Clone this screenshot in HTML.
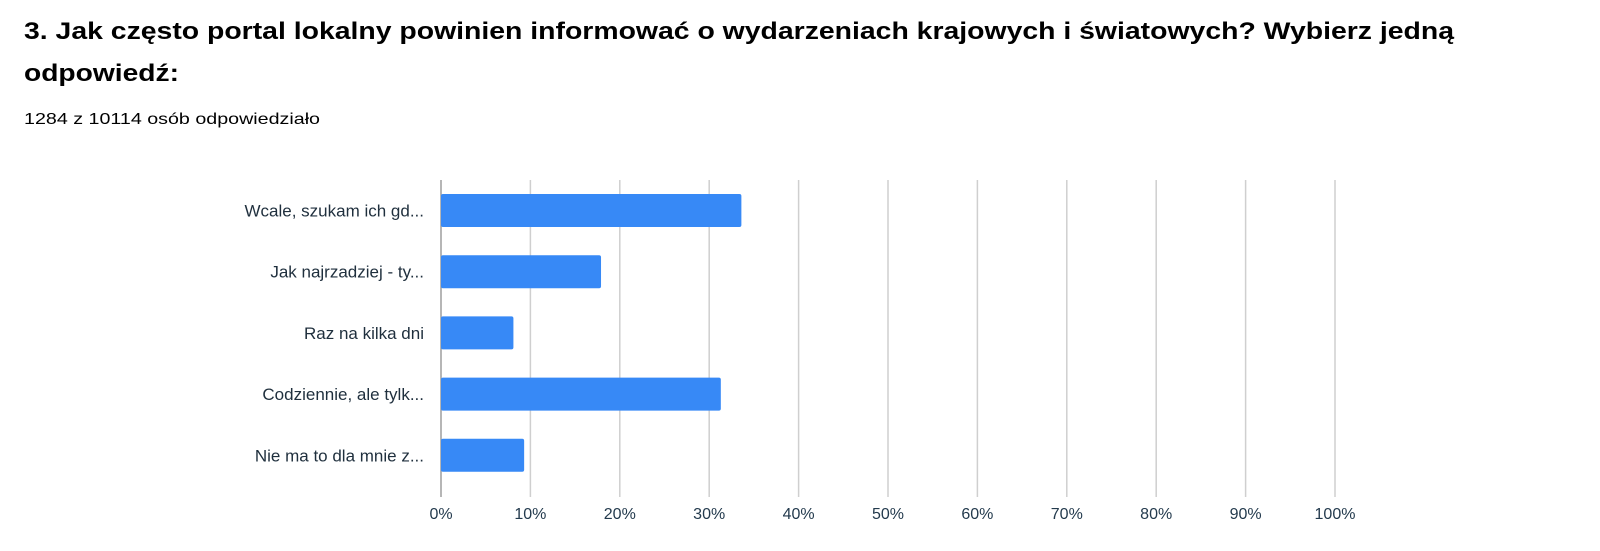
<!DOCTYPE html>
<html><head><meta charset="utf-8"><style>
body{margin:0;background:#fff;width:1600px;height:546px;overflow:hidden;font-family:"Liberation Sans",sans-serif}
</style></head><body>
<svg id="chart" width="1600" height="546" xmlns="http://www.w3.org/2000/svg">
<text x="24" y="39" font-size="24" font-weight="bold" fill="#000" textLength="1430" lengthAdjust="spacingAndGlyphs">3. Jak często portal lokalny powinien informować o wydarzeniach krajowych i światowych? Wybierz jedną</text>
<text x="24" y="81" font-size="24" font-weight="bold" fill="#000" textLength="155" lengthAdjust="spacingAndGlyphs">odpowiedź:</text>
<text x="24" y="124" font-size="16" fill="#000" textLength="296" lengthAdjust="spacingAndGlyphs">1284 z 10114 osób odpowiedziało</text>
<g id="grid"></g><g id="bars"></g><g id="labels"></g><g id="ticks"></g>
</svg>
<script>
const categories = ["Wcale, szukam ich gd...","Jak najrzadziej - ty...","Raz na kilka dni","Codziennie, ale tylk...","Nie ma to dla mnie z..."];
const values = [33.6, 17.9, 8.1, 31.3, 9.3];
const tickValues = [0,10,20,30,40,50,60,70,80,90,100];
const tickLabels = ["0%","10%","20%","30%","40%","50%","60%","70%","80%","90%","100%"];
const NS="http://www.w3.org/2000/svg";
const x0=441, x1=1335, yTop=180, yBottom=497, firstCenter=210.5, pitch=61.2, barH=33;
const xs=v=>x0+(x1-x0)*v/100;
const yc=i=>firstCenter+i*pitch;
function mk(tag,attrs,parent){const e=document.createElementNS(NS,tag);for(const k in attrs)e.setAttribute(k,attrs[k]);document.getElementById(parent).appendChild(e);return e;}
tickValues.forEach((t,i)=>{
  const l=mk('line',{x1:xs(t),x2:xs(t),y1:yTop,y2:yBottom,stroke:i===0?'#9e9e9e':'#cfcfcf','stroke-width':1.5},'grid');
  
  
  const tx=mk('text',{x:xs(t),y:519,'text-anchor':'middle','font-size':16,fill:'#233a4d'},'ticks');
  tx.textContent=tickLabels[i];
  
  
});
categories.forEach((c,i)=>{
  const r=mk('rect',{x:x0,y:yc(i)-barH/2,width:xs(values[i])-x0,height:barH,rx:2,fill:'#3789f6'},'bars');
  
  
  const t=mk('text',{x:424,y:yc(i)+6,'text-anchor':'end','font-size':17,fill:'#1f2f3d'},'labels');
  t.textContent=c;
  
  
});
</script>
</body></html>
